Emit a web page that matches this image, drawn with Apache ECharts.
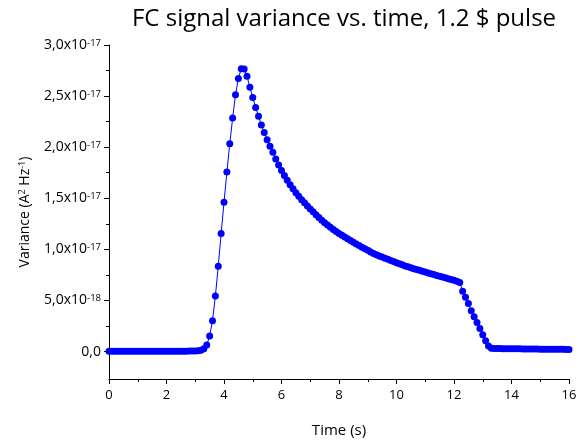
<!DOCTYPE html>
<html>
<head>
<meta charset="utf-8">
<script src="https://cdn.jsdelivr.net/npm/echarts@6/dist/echarts.min.js"></script>
<style>html,body{margin:0;padding:0;background:#fff}#c{width:584px;height:443px}</style>
</head>
<body>
<div id="c"></div>
<script>
// Time (s)
var times = [
0.0,0.1,0.2,0.3,0.4,0.5,0.6,0.7,0.8,0.9,
1.0,1.1,1.2,1.3,1.4,1.5,1.6,1.7,1.8,1.9,
2.0,2.1,2.2,2.3,2.4,2.5,2.6,2.7,2.8,2.9,
3.0,3.1,3.2,3.3,3.4,3.5,3.6,3.7,3.8,3.9,
4.0,4.1,4.2,4.3,4.4,4.5,4.6,4.7,4.8,4.9,
5.0,5.1,5.2,5.3,5.4,5.5,5.6,5.7,5.8,5.9,
6.0,6.1,6.2,6.3,6.4,6.5,6.6,6.7,6.8,6.9,
7.0,7.1,7.2,7.3,7.4,7.5,7.6,7.7,7.8,7.9,
8.0,8.1,8.2,8.3,8.4,8.5,8.6,8.7,8.8,8.9,
9.0,9.1,9.2,9.3,9.4,9.5,9.6,9.7,9.8,9.9,
10.0,10.1,10.2,10.3,10.4,10.5,10.6,10.7,10.8,10.9,
11.0,11.1,11.2,11.3,11.4,11.5,11.6,11.7,11.8,11.9,
12.0,12.1,12.2,12.3,12.4,12.5,12.6,12.7,12.8,12.9,
13.0,13.1,13.2,13.3,13.4,13.5,13.6,13.7,13.8,13.9,
14.0,14.1,14.2,14.3,14.4,14.5,14.6,14.7,14.8,14.9,
15.0,15.1,15.2,15.3,15.4,15.5,15.6,15.7,15.8,15.9,
16.0
];
// Variance in units of 1e-17 A^2/Hz
var varianceE17 = [
0.003,0.003,0.003,0.003,0.003,0.003,0.003,0.003,0.003,0.003,
0.003,0.003,0.003,0.003,0.003,0.003,0.003,0.003,0.003,0.003,
0.003,0.003,0.003,0.003,0.003,0.003,0.003,0.003,0.004,0.004,
0.005,0.007,0.013,0.027,0.064,0.151,0.301,0.543,0.834,1.154,
1.461,1.756,2.033,2.285,2.512,2.673,2.767,2.765,2.693,2.586,
2.486,2.389,2.302,2.217,2.144,2.072,2.010,1.950,1.885,1.825,
1.772,1.722,1.677,1.633,1.592,1.553,1.519,1.486,1.455,1.425,
1.396,1.367,1.339,1.311,1.284,1.260,1.238,1.216,1.195,1.175,
1.156,1.138,1.120,1.103,1.086,1.069,1.053,1.037,1.021,1.005,
0.990,0.975,0.960,0.948,0.936,0.924,0.913,0.902,0.891,0.880,
0.869,0.859,0.848,0.838,0.829,0.820,0.811,0.803,0.795,0.786,
0.778,0.769,0.761,0.753,0.745,0.737,0.729,0.721,0.713,0.705,
0.697,0.688,0.676,0.590,0.530,0.470,0.400,0.340,0.285,0.225,
0.165,0.105,0.055,0.033,0.030,0.029,0.029,0.028,0.028,0.027,
0.027,0.026,0.026,0.026,0.025,0.025,0.025,0.024,0.024,0.024,
0.023,0.023,0.023,0.022,0.022,0.022,0.021,0.021,0.021,0.020,
0.020
];
// Y tick labels: [value, mantissa, exponent]
var yTickValues = [0, 0.5, 1.0, 1.5, 2.0, 2.5, 3.0];
var yTickMantissa = ['0,0', '5,0x10', '1,0x10', '1,5x10', '2,0x10', '2,5x10', '3,0x10'];
var yTickExponent = ['', '-18', '-17', '-17', '-17', '-17', '-17'];
var yMinorTicks = [0.25, 0.75, 1.25, 1.75, 2.25, 2.75];

var FONT = 'Open Sans';
var data = times.map(function (t, i) { return [t, varianceE17[i]]; });

var chart = echarts.init(document.getElementById('c'), null, {renderer: 'canvas'});
var yMin = -0.269, yMax = 3.0;
chart.setOption({
  animation: false,
  backgroundColor: '#ffffff',
  title: {
    text: 'FC signal variance vs. time, 1.2 $ pulse',
    left: 339, top: 2, textAlign: 'center',
    textStyle: {fontFamily: FONT, fontSize: 24, fontWeight: 'normal', color: '#000'}
  },
  grid: {left: 109, right: 15, top: 45, bottom: 61, containLabel: false},
  xAxis: {
    type: 'value', min: 0, max: 16, interval: 2,
    name: 'Time (s)', nameLocation: 'middle', nameGap: 44,
    nameTextStyle: {fontFamily: FONT, fontSize: 15, color: '#000'},
    axisLine: {onZero: false, lineStyle: {color: '#000', width: 1}},
    axisTick: {inside: false, length: 5, lineStyle: {color: '#000'}},
    minorTick: {show: true, splitNumber: 2, length: 3, lineStyle: {color: '#000'}},
    axisLabel: {fontFamily: FONT, fontSize: 13, color: '#000', margin: 10},
    splitLine: {show: false}
  },
  yAxis: [{
    type: 'value', min: yMin, max: yMax,
    name: '{n|Variance (A}{s|2}{n| Hz}{s|-1}{n|)}', nameLocation: 'middle', nameRotate: 90, nameGap: 77,
    nameTextStyle: {
      fontFamily: FONT, color: '#000',
      rich: {
        n: {fontFamily: FONT, fontSize: 14, color: '#000'},
        s: {fontFamily: FONT, fontSize: 9, color: '#000', verticalAlign: 'top'}
      }
    },
    axisLine: {show: true, onZero: false, lineStyle: {color: '#000', width: 1}},
    axisTick: {show: true, length: 5, customValues: yTickValues, lineStyle: {color: '#000'}},
    axisLabel: {
      customValues: yTickValues,
      margin: 8,
      formatter: function (v) {
        var i = -1;
        for (var k = 0; k < yTickValues.length; k++) if (Math.abs(yTickValues[k] - v) < 1e-6) i = k;
        if (i < 0) return '';
        if (!yTickExponent[i]) return '{n|' + yTickMantissa[i] + '}';
        return '{n|' + yTickMantissa[i] + '}{s|' + yTickExponent[i] + '}';
      },
      rich: {
        n: {fontFamily: FONT, fontSize: 14, color: '#000'},
        s: {fontFamily: FONT, fontSize: 9.5, color: '#000', verticalAlign: 'top'}
      }
    },
    splitLine: {show: false}
  }, {
    type: 'value', min: yMin, max: yMax, position: 'left', offset: 0,
    axisLine: {show: false},
    axisTick: {show: true, length: 3, customValues: yMinorTicks, lineStyle: {color: '#000'}},
    axisLabel: {show: false},
    splitLine: {show: false}
  }],
  series: [{
    type: 'line',
    data: data,
    yAxisIndex: 0,
    symbol: 'circle',
    symbolSize: 7,
    showAllSymbol: true,
    itemStyle: {color: '#0000ff'},
    lineStyle: {color: '#0000ff', width: 1}
  }]
});
</script>
</body>
</html>
